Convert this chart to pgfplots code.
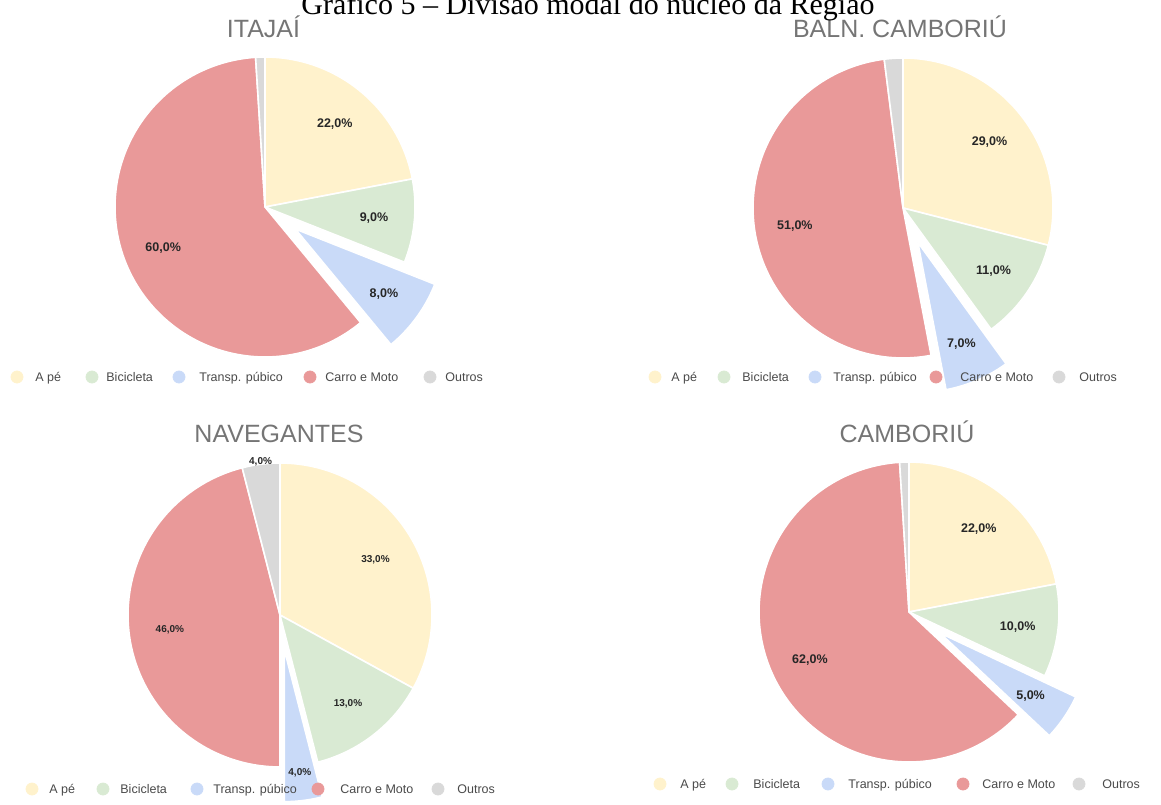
\documentclass[border=0pt]{standalone}
\usepackage{pgfplots}
\pgfplotsset{compat=1.18}
\usepackage{fontspec}
\setmainfont{Liberation Sans}
\newfontfamily\capfont{Liberation Serif}
\definecolor{cA}{HTML}{FFF2CC}
\definecolor{cB}{HTML}{D9EAD3}
\definecolor{cT}{HTML}{C9DAF8}
\definecolor{cC}{HTML}{E99999}
\definecolor{cO}{HTML}{D9D9D9}
\definecolor{ttl}{HTML}{757575}
\definecolor{lgdc}{HTML}{4A4A4A}
\definecolor{lab}{HTML}{262626}

% one slice: cx cy(y up) r startpct endpct colour explodefraction
\newcommand\slice[7]{%
  \pgfmathsetmacro\sa{#4*3.6}%
  \pgfmathsetmacro\sb{#5*3.6}%
  \pgfmathsetmacro\sm{(\sa+\sb)/2}%
  \pgfmathsetmacro\ox{#1+#7*#3*sin(\sm)}%
  \pgfmathsetmacro\oy{#2+#7*#3*cos(\sm)}%
  \pgfmathtruncatemacro\ns{max(4,(#5-#4)*2)}%
  \edef\tmp{\noexpand\addplot[fill=#6, draw=white, line width=0.8pt, line join=round, no markers, domain=\sa:\sb, samples=\ns] ({\ox+#3*sin(x)}, {\oy+#3*cos(x)}) -- (axis cs:\ox,\oy) -- cycle;}%
  \tmp}

% label: cx cy(y up) startpct endpct dist offset text
\newcommand\plabel[7]{%
  \pgfmathsetmacro\sm{(#3+#4)*1.8}%
  \pgfmathsetmacro\lx{#1+(#5+#6)*sin(\sm)}%
  \pgfmathsetmacro\ly{#2+(#5+#6)*cos(\sm)-0.716*\labsize}%
  \edef\tmp{\noexpand\node[anchor=base, inner sep=0pt, text=lab, font=\noexpand\fontsize{\labsize}{\labsize}\noexpand\selectfont\noexpand\bfseries] at (axis cs:\lx,\ly) {#7};}%
  \tmp}

\def\labsize{6.25}
\def\tdist{0.73}
\def\odist{0}

% pie: cx cy(px, from top) r pA pB pT pC pO explode
\newcommand\pie[9]{%
  \pgfmathsetmacro\cyy{804-#2}%
  \pgfmathsetmacro\cumA{#4}%
  \pgfmathsetmacro\cumB{#4+#5}%
  \pgfmathsetmacro\cumC{#4+#5+#6}%
  \pgfmathsetmacro\cumD{#4+#5+#6+#7}%
  \slice{#1}{\cyy}{#3}{0}{\cumA}{cA}{0}%
  \slice{#1}{\cyy}{#3}{\cumA}{\cumB}{cB}{0}%
  \slice{#1}{\cyy}{#3}{\cumB}{\cumC}{cT}{#9}%
  \slice{#1}{\cyy}{#3}{\cumC}{\cumD}{cC}{0}%
  \slice{#1}{\cyy}{#3}{\cumD}{100}{cO}{0}%
  \pgfmathsetmacro\labd{0.73*#3}%
  \pgfmathsetmacro\tlabd{\tdist*#3}%
  \pgfmathsetmacro\offT{#9*#3}%
  \pgfmathsetmacro\olabd{\odist*#3}%
  \plabel{#1}{\cyy}{0}{\cumA}{\labd}{0}{#4,0\%}%
  \plabel{#1}{\cyy}{\cumA}{\cumB}{\labd}{0}{#5,0\%}%
  \plabel{#1}{\cyy}{\cumB}{\cumC}{\tlabd}{\offT}{#6,0\%}%
  \plabel{#1}{\cyy}{\cumC}{\cumD}{\labd}{0}{#7,0\%}%
  \ifdim\odist pt>0pt \plabel{#1}{\cyy}{\cumD}{100}{\olabd}{0}{#8,0\%}\fi
}

% legend entry: xcircle xtext y(px from top) colour text
\newcommand\lgd[5]{%
  \pgfmathsetmacro\yy{804-#3}%
  \pgfmathsetmacro\yb{804-#3-4.5}%
  \edef\tmp{\noexpand\addplot[only marks, mark=*, mark size=3pt, color=#4] coordinates {(#1,\yy)};\noexpand\node[anchor=base west, inner sep=0pt, text=lgdc, font=\noexpand\fontsize{6.25}{6.25}\noexpand\selectfont] at (axis cs:#2,\yb) {#5};}%
  \tmp}

\newcommand\ttlnode[3]{%
  \pgfmathsetmacro\yy{804-#2}%
  \edef\tmp{\noexpand\node[anchor=base, inner sep=0pt, text=ttl, font=\noexpand\fontsize{12.5}{12.5}\noexpand\selectfont] at (axis cs:#1,\yy) {#3};}%
  \tmp}

\begin{document}
\begin{tikzpicture}
\begin{axis}[name=ax, at={(0,0)}, anchor=south west,
  width=580.5pt, height=402pt, scale only axis,
  xmin=0, xmax=1161, ymin=0, ymax=804,
  hide axis, clip=false]

% ITAJAI
\def\labsize{6.25}\def\tdist{0.73}\def\odist{0}
\pie{265}{207}{150}{22}{9}{8}{60}{1}{0.25}
% BALN. CAMBORIU
\pie{903}{208}{150}{29}{11}{7}{51}{2}{0.25}
% NAVEGANTES
\def\labsize{5}\def\tdist{0.81}\def\odist{1.02}
\pie{280}{615}{152}{33}{13}{4}{46}{4}{0.23}
% CAMBORIU
\def\labsize{6.25}\def\tdist{0.73}\def\odist{0}
\pie{909}{612}{150}{22}{10}{5}{62}{1}{0.25}

\ttlnode{263.5}{38}{ITAJAÍ}
\ttlnode{900}{38}{BALN. CAMBORIÚ}
\ttlnode{279}{442}{NAVEGANTES}
\ttlnode{907}{442}{CAMBORIÚ}

\lgd{17}{35}{377}{cA}{A pé}
\lgd{92}{106}{377}{cB}{Bicicleta}
\lgd{179}{199}{377}{cT}{Transp. púbico}
\lgd{310}{325}{377}{cC}{Carro e Moto}
\lgd{430}{445}{377}{cO}{Outros}

\lgd{655}{671}{377}{cA}{A pé}
\lgd{724}{742}{377}{cB}{Bicicleta}
\lgd{815}{833}{377}{cT}{Transp. púbico}
\lgd{936}{960}{377}{cC}{Carro e Moto}
\lgd{1059}{1079}{377}{cO}{Outros}

\lgd{32}{49}{789}{cA}{A pé}
\lgd{103}{120}{789}{cB}{Bicicleta}
\lgd{197}{213}{789}{cT}{Transp. púbico}
\lgd{318}{340}{789}{cC}{Carro e Moto}
\lgd{438}{457}{789}{cO}{Outros}

\lgd{660}{680}{784}{cA}{A pé}
\lgd{732}{753}{784}{cB}{Bicicleta}
\lgd{828}{848}{784}{cT}{Transp. púbico}
\lgd{963}{982}{784}{cC}{Carro e Moto}
\lgd{1079}{1102}{784}{cO}{Outros}

\node[anchor=base, inner sep=0pt, font=\capfont\fontsize{15}{15}\selectfont] at (axis cs:588,789) {Gráfico 5 – Divisão modal do núcleo da Região};
\end{axis}
\pgfresetboundingbox
\path[use as bounding box] (ax.south west) rectangle (ax.north east);
\end{tikzpicture}
\end{document}
